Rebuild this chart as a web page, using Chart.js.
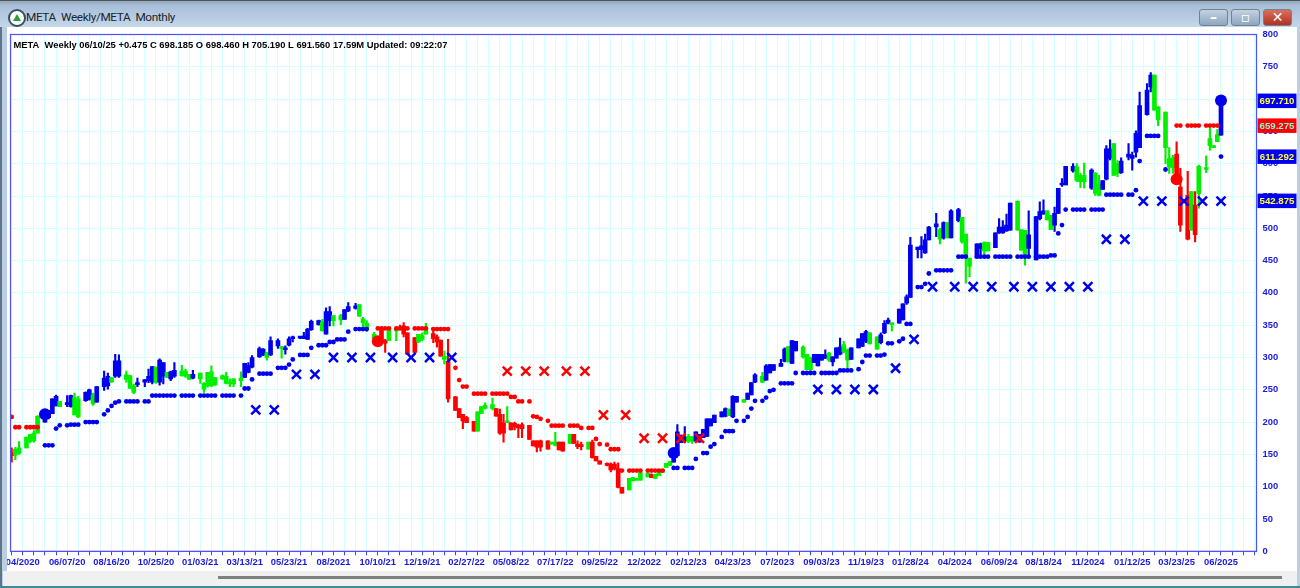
<!DOCTYPE html>
<html>
<head>
<meta charset="utf-8">
<title>META Weekly/META Monthly</title>
<script src="https://cdn.jsdelivr.net/npm/chart.js@4/dist/chart.umd.min.js"></script>
<style>
html, body { margin: 0; padding: 0; width: 1300px; height: 588px; overflow: hidden; background: #b9cfe4; }
#titlebar { position: absolute; left: 0; top: 0; width: 1300px; height: 27px; background: linear-gradient(#8fa6bf 0, #a9bfd8 4px, #b4c9e0 14px, #c6d8ea 27px); border-top: 1px solid #555; box-sizing: border-box; }
#icon { position: absolute; left: 8px; top: 8px; width: 14px; height: 14px; border-radius: 50%; background: #fff; border: 2px solid #35505f; }
#icon i { position: absolute; left: 3px; top: 3px; border-left: 4px solid transparent; border-right: 4px solid transparent; border-bottom: 7px solid #2f9a3a; }
#wintitle { position: absolute; left: 26px; top: 9px; font: 11.8px Roboto, sans-serif; letter-spacing: -0.38px; color: #20252b; white-space: pre; }
.btn { position: absolute; top: 8px; width: 29px; height: 17px; border: 1px solid #6f8296; border-radius: 3px; box-sizing: border-box; background: linear-gradient(#c2d2e2, #8ea7c0); text-align: center; color: #fff; font: bold 14px "DejaVu Sans", sans-serif; line-height: 14px; }
#client { position: absolute; left: 7px; top: 27px; width: 1290px; height: 544px; background: #fff; }
#hscroll { position: absolute; left: 3px; top: 571px; width: 1294px; height: 15px; background: #f0f0f0; }
#thumb { position: absolute; left: 215px; top: 5px; width: 1064px; height: 3px; background: #808080; }
#edge { position: absolute; left: 0; top: 586px; width: 1300px; height: 2px; background: #3f8a96; }
#leftedge { position: absolute; left: 0; top: 27px; width: 2px; height: 560px; background: #5f7488; }
</style>
</head>
<body>
<div id="titlebar">
  <div id="icon"><i></i></div>
  <div id="wintitle">META  Weekly/META  Monthly</div>
  <div class="btn" style="left:1199px">–</div>
  <div class="btn" style="left:1231px">▫</div>
  <div class="btn" style="left:1263px;background:linear-gradient(#d9705f,#b03222)">✕</div>
</div>
<div id="leftedge"></div>
<div id="client"><canvas id="chart" width="1290" height="544"></canvas></div>
<div id="hscroll"><div id="thumb"></div></div>
<div id="edge"></div>
<script>
const headerText = 'META  Weekly 06/10/25 +0.475 C 698.185 O 698.460 H 705.190 L 691.560 17.59M Updated: 09:22:07';

// x labels sit on slot 3 and then every 12 slots
const xTickLabels = ['04/2020','06/07/20','08/16/20','10/25/20','01/03/21','03/13/21','05/23/21','08/2021','10/10/21','12/19/21','02/27/22','05/08/22','07/17/22','09/25/22','12/2022','02/12/23','04/23/23','07/2023','09/03/23','11/19/23','01/28/24','04/2024','06/09/24','08/18/24','11/2024','01/12/25','03/23/25','06/2025'];

// weekly bars, b = blue, g = green, r = red
const barSlots = [0,1,2,4,5,6,7,9,10,11,
  12,13,15,16,17,18,20,21,22,23,
  25,26,27,28,29,31,32,33,34,36,
  37,38,39,40,41,42,43,44,46,47,
  48,49,51,52,53,54,55,57,58,59,
  60,62,63,64,65,67,68,69,70,72,
  73,74,75,76,78,79,80,81,83,84,
  85,86,87,89,90,91,93,94,95,96,
  98,99,100,101,102,104,105,106,107,109,
  110,111,112,114,115,116,117,118,120,121,
  122,123,125,126,127,128,130,131,132,133,
  134,135,136,137,138,140,141,142,143,145,
  146,147,148,149,151,152,153,154,156,157,
  158,159,161,162,163,164,165,167,168,169,
  170,172,173,174,175,176,177,178,179,180,
  181,182,183,184,185,186,187,188,189,190,
  192,193,194,195,196,198,199,200,201,203,
  204,205,206,208,209,210,211,212,214,215,
  216,217,218,219,220,221,222,223,224,225,
  226,227,229,230,231,232,234,235,236,237,
  238,240,241,242,243,245,246,247,248,250,
  251,252,253,254,256,257,258,259,261,262,
  263,264,266,267,268,269,270,272,273,274,
  275,277,278,279,280,281,282,283,284,285,
  287,288,289,290,292,293,294,295,296,297,
  298,299,300,302,303,304,305,307,308,309,
  310,312,313,314,315,316,318,319,320,321,
  323,324,325,326,327];
const barKinds = ('rgggggg' + 'bbb' +
  'bgbbggbbgb' +
  'bbgbbgggbb' +
  'bbgbbgbbgg' +
  'gbgggggggg' +
  'ggbbbbbgbb' +
  'gbbbbbbbbg' +
  'bbggbbbggg' +
  'grrrggrrrr' +
  'gggrrrgrrr' +
  'rrrggggrrr' +
  'grrrrrrrrr' +
  'ggrrgrrrgr' +
  'rrrrrrrggg' +
  'ggrggggg' + 'bb' +
  'bbggbbbbbb' +
  'bbgbbgbbbg' +
  'bbbbbgbbgg' +
  'gbbbbgbbbg' +
  'gbbbbggbbb' +
  'gbbbbbbbbb' +
  'gbgbbgggbb' +
  'ggbbbbbggg' +
  'bbbbggbbbb' +
  'bgggbggbbb' +
  'ggbbbbbbbg' +
  'ggggrrrgrg' +
  'ggggb').split('');
const bodyHigh = [153,158,160,177,181,183,209,218,218,236,
  240,232,229,241,238,236,246,250,241,255,
  268,271,269,295,295,273,272,256,261,266,
  271,286,285,296,292,277,278,280,279,279,
  274,274,276,260,277,278,269,272,271,262,
  267,268,291,288,300,314,313,307,326,326,
  317,314,329,332,331,333,344,356,357,355,
  371,371,365,365,374,379,380,382,360,353,
  336,331,344,326,343,345,346,349,338,331,
  336,334,344,337,332,327,302,294,239,221,
  212,207,201,216,224,226,227,221,212,199,
  202,199,198,195,196,195,171,171,171,171,
  168,169,169,169,181,181,166,164,169,169,
  147,140,136,135,135,128,99,113,114,113,
  122,121,119,119,122,127,136,139,158,185,
  180,177,178,177,185,181,189,205,205,211,
  216,221,220,240,240,235,245,261,273,271,
  287,289,289,291,313,317,326,325,316,305,
  299,305,305,305,304,307,301,315,316,320,
  312,315,329,337,340,338,332,335,353,358,
  352,375,383,394,474,471,473,482,502,507,
  498,509,509,527,529,517,491,454,476,476,
  478,478,493,502,502,505,539,542,498,497,
  490,518,526,527,527,520,523,562,569,596,
  596,595,582,582,590,586,568,574,623,623,
  631,600,604,615,613,647,690,714,737,737,
  688,680,608,609,615,564,551,557,536,596,
  594,639,628,645,698];
const bodyLow = [148,149,152,160,170,171,183,200,207,213,
  225,224,227,224,211,208,233,235,228,231,
  255,256,262,271,271,266,252,246,258,262,
  264,262,262,262,271,269,267,271,272,271,
  266,268,267,251,256,256,257,267,260,259,
  259,264,269,277,285,301,304,300,304,318,
  314,312,319,329,330,329,328,343,351,341,
  336,357,357,358,359,372,376,364,354,344,
  329,323,323,322,326,341,344,336,305,308,
  324,328,336,329,324,302,297,236,218,207,
  202,199,186,186,213,221,221,209,183,183,
  199,188,193,191,190,173,163,161,161,158,
  166,164,157,155,167,167,162,162,158,145,
  140,135,133,126,128,99,90,95,109,110,
  110,115,114,113,117,122,130,133,138,148,
  168,171,170,170,171,169,176,178,194,199,
  208,209,210,208,231,231,235,242,262,262,
  265,276,280,286,294,293,291,310,301,281,
  281,292,287,296,299,296,293,299,305,309,
  296,297,315,317,325,321,313,323,338,353,
  351,353,358,384,393,467,467,462,482,502,
  483,485,485,485,512,479,456,441,454,469,
  465,465,470,493,493,496,497,497,466,459,
  469,451,515,522,513,498,505,523,567,567,
  589,574,572,572,562,554,551,560,576,608,
  582,585,586,610,608,618,625,676,719,683,
  668,625,595,594,580,505,483,497,490,554,
  591,628,625,634,644];
const highs = [160,161,170,177,181,187,210,218,218,236,
  242,232,241,242,245,240,247,251,245,255,
  279,276,269,305,304,279,272,259,268,266,
  282,286,285,298,292,277,279,292,288,282,
  274,280,276,261,277,287,269,273,277,267,
  267,278,291,292,303,316,314,308,332,329,
  317,318,332,333,332,339,345,358,358,359,
  377,379,365,367,374,385,384,382,362,357,
  339,331,347,328,343,345,350,354,338,331,
  336,338,353,346,335,327,310,328,240,221,
  212,209,201,216,224,230,237,221,220,212,
  224,199,200,197,199,195,171,171,172,171,
  168,184,169,169,181,181,171,169,169,172,
  147,140,137,137,138,137,99,113,114,113,
  122,121,120,119,122,127,136,139,158,196,
  180,193,181,178,185,181,189,205,205,211,
  216,222,220,241,240,235,245,261,275,277,
  289,289,289,297,315,317,326,325,318,305,
  301,305,305,305,312,308,301,315,330,325,
  313,315,329,337,342,338,332,338,357,361,
  352,375,383,397,486,471,487,491,503,523,
  500,510,509,529,531,517,491,454,476,477,
  479,478,493,515,512,522,539,542,498,497,
  527,518,541,544,527,520,533,562,577,596,
  600,600,585,601,592,586,582,574,628,637,
  631,605,609,631,618,651,711,724,741,737,
  688,680,625,613,634,593,588,557,557,598,
  612,656,628,653,705];
const lows = [138,142,150,160,168,169,183,200,205,213,
  225,224,224,223,211,207,232,234,226,231,
  249,251,262,269,269,262,252,244,255,255,
  261,259,260,257,259,269,264,269,271,269,
  266,267,260,246,254,255,257,266,259,255,
  255,255,269,276,284,300,303,296,303,314,
  299,305,318,324,329,329,328,342,350,341,
  336,349,349,351,359,371,375,364,346,340,
  328,321,323,308,326,326,343,332,305,308,
  323,326,336,323,316,302,290,231,218,207,
  190,199,186,186,213,220,219,209,181,169,
  199,188,188,176,176,173,163,154,155,158,
  166,163,157,155,167,167,159,157,158,144,
  140,135,132,123,126,98,90,95,109,110,
  110,115,114,113,117,122,130,133,138,148,
  168,169,168,167,171,169,176,178,194,199,
  208,208,210,207,231,231,235,242,261,261,
  265,276,280,286,293,293,291,310,299,281,
  276,292,287,296,298,294,287,299,304,307,
  281,297,315,317,323,321,313,321,337,352,
  341,353,358,382,393,454,454,461,482,487,
  476,483,485,485,510,477,415,425,454,456,
  459,465,470,492,492,495,497,497,466,443,
  459,451,513,522,513,498,495,523,565,567,
  587,572,563,562,560,551,550,560,575,606,
  582,580,585,606,590,610,625,675,711,683,
  659,600,585,585,570,495,482,497,479,531,
  586,621,625,634,644];

// stop dots
const blueDotSlots = [9,10,11,12,13,15,16,17,18,20,21,22,23,25,26,27,28,29,31,32,33,34,36,37,38,39,40,41,42,43,44,46,47,48,49,51,52,53,54,55,57,58,59,60,62,63,64,65,67,68,69,70,72,73,74,75,76,78,79,80,81,83,84,85,86,87,88,89,90,91,93,94,95,96,
  179,180,182,183,184,185,187,188,189,190,192,193,194,195,196,198,199,200,201,203,204,205,206,208,209,210,211,212,214,215,216,217,219,220,221,222,223,224,225,226,227,229,230,231,232,234,235,236,237,238,240,241,242,243,
  245,246,247,248,250,251,252,253,254,256,257,258,261,262,263,264,266,267,268,269,270,272,273,274,275,277,278,279,280,281,282,283,284,285,287,288,289,290,292,293,294,295,296,297,298,299,300,302,303,304,305,307,308,309,310,312,327,328];
const blueDotValues = [164,164,164,190,195,195,196,196,196,200,200,200,200,212,218,225,230,232,232,232,232,232,232,232,241,241,241,241,241,241,241,241,241,241,241,241,241,241,241,241,241,241,241,241,241,252,252,266,275,275,275,275,284,284,284,289,297,304,304,304,315,319,319,319,324,324,328,328,328,340,344,344,344,344,
  129,129,129,129,129,143,152,152,162,166,177,186,186,186,202,202,208,221,233,233,238,248,250,260,260,260,260,276,276,276,276,276,276,276,276,276,276,280,280,280,280,282,293,303,303,303,303,304.5,322,322,325,329,352,352,
  409,409,414,430,435,435,435,435,435,456,456,456,456,456,456,456,456,456,456,456,456,456,456,456,456,456,456,456,456,458,458,492,505,529,529,529,529,529,529,529,529,529,552,552,552,552,552,552,552,559,604,643,643,643,643,591,611];
const redDotSlots = [0,1,2,4,5,6,7,99,100,101,102,104,105,106,107,109,110,111,112,114,115,116,117,118,120,121,122,123,125,126,127,128,130,131,132,133,134,135,136,137,138,140,141,142,143,145,146,147,148,149,151,152,153,154,156,157,158,159,161,162,163,164,165,167,168,169,170,172,173,174,175,176,315,316,318,319,320,321,323,324,325,326];
const redDotValues = [208,192,192,192,192,192,192,345,345,345,345,345,345,345,345,345,345,345,345,344,344,344,344,344,284,265,255,255,244,244,244,244,244,244,244,244,244,239,239,232,232,232,209,208,205,202,194.5,194.5,194.5,194.5,194.5,194.5,194.5,191,191,191,174,166,165,158,158,158,125,125,125,125,125,125,125,125,125,125,659,659,659,659,659,659,659,659,659,659];

// trend change circles
const bigBlueSlots = [9,179,327];
const bigBlueValues = [212,152,697.7];
const bigRedSlots = [99,315];
const bigRedValues = [325,576];

// x marks
const blueCrossSlots = [66,71,77,82,87,92,97,103,108,113,119,218,223,228,233,239,244,249,255,260,265,271,276,281,286,291,296,301,306,311,317,322,327];
const blueCrossValues = [219,219,274,274,300,300,300,300,300,300,300,250.5,250.5,250.5,250.5,283.4,328,409.5,409.5,409.5,409.5,409.5,409.5,409.5,409.5,409.5,483,483,542,542,542,542,542];
const redCrossSlots = [134,139,144,150,155,160,166,171,176,181,186];
const redCrossValues = [279,279,279,279,279,211,211,175,175,175,175];

// price tags on the right axis
const tagValues = [697.71,659.275,611.292,542.875];
const tagLabels = ['697.710','659.275','611.292','542.875'];
const tagKinds = ['b','r','b','b'];

const BLUE = '#0000ee', GREEN = '#00f000', RED = '#ff0000';
const kindColor = { b: BLUE, g: GREEN, r: RED };
const axisFont = { family: '"Liberation Sans", Arial, sans-serif', size: 9.4, weight: 'bold' };

function points(slots, values) {
    return slots.map(function(s, i) { return { x: s, y: values[i] }; });
}

function dots(slots, values, color, radius) {
    return {
        type: 'scatter',
        data: points(slots, values),
        backgroundColor: color,
        borderColor: color,
        pointRadius: radius,
        borderWidth: 0,
        order: 1
    };
}

function crosses(slots, values, color) {
    return {
        type: 'scatter',
        data: points(slots, values),
        pointStyle: 'crossRot',
        pointRadius: 6.4,
        borderColor: color,
        pointBorderWidth: 2.5,
        order: 0
    };
}

const framePlugin = {
    id: 'frame',
    afterDraw(chart) {
        const ctx = chart.ctx, a = chart.chartArea, y = chart.scales.y;
        ctx.save();
        ctx.strokeStyle = '#5050ff';
        ctx.lineWidth = 1.2;
        ctx.strokeRect(a.left, a.top, a.right - a.left, a.bottom - a.top);
        ctx.fillStyle = '#000';
        ctx.font = 'bold 9.4px "Liberation Sans", Arial, sans-serif';
        ctx.textBaseline = 'alphabetic';
        ctx.fillText(headerText, a.left + 3, a.top + 13);
        ctx.textAlign = 'center';
        ctx.textBaseline = 'middle';
        ctx.font = 'bold 9.7px "Liberation Sans", Arial, sans-serif';
        tagValues.forEach(function(v, i) {
            const py = y.getPixelForValue(v);
            ctx.fillStyle = tagKinds[i] === 'r' ? RED : BLUE;
            ctx.fillRect(a.right + 1, py - 7, 39, 14.5);
            ctx.fillStyle = tagKinds[i] === 'r' ? '#7fffd8' : '#ffff40';
            ctx.fillText(tagLabels[i], a.right + 20.5, py + 0.5);
        });
        ctx.restore();
    }
};

new Chart(document.getElementById('chart').getContext('2d'), {
    type: 'bar',
    plugins: [framePlugin],
    data: {
        datasets: [
            crosses(blueCrossSlots, blueCrossValues, BLUE),
            crosses(redCrossSlots, redCrossValues, RED),
            dots(blueDotSlots, blueDotValues, BLUE, 2.4),
            dots(redDotSlots, redDotValues, RED, 2.4),
            dots(bigBlueSlots, bigBlueValues, BLUE, 6),
            dots(bigRedSlots, bigRedValues, RED, 6),
            {
                data: barSlots.map(function(s, i) { return { x: s, y: [bodyLow[i], bodyHigh[i]] }; }),
                backgroundColor: barKinds.map(function(k) { return kindColor[k]; }),
                barThickness: 4,
                minBarLength: 2,
                order: 2
            },
            {
                data: barSlots.map(function(s, i) { return { x: s, y: [lows[i], highs[i]] }; }),
                backgroundColor: barKinds.map(function(k) { return kindColor[k]; }),
                barThickness: 1.5,
                order: 3
            }
        ]
    },
    options: {
        responsive: false,
        animation: false,
        devicePixelRatio: 1,
        layout: { autoPadding: false, padding: { left: 3.5, top: 7.5, right: 2.5, bottom: 0 } },
        plugins: { legend: { display: false }, tooltip: { enabled: false } },
        datasets: { bar: { grouped: false } },
        scales: {
            x: {
                type: 'linear',
                offset: false,
                min: -0.32,
                max: 336.6,
                grid: { offset: false, color: '#d6ffff', lineWidth: 1, tickColor: '#4040ff', tickLength: 4 },
                border: { color: '#5050ff' },
                ticks: {
                    stepSize: 3,
                    includeBounds: false,
                    autoSkip: false,
                    maxRotation: 0,
                    padding: 1,
                    color: '#1818e0',
                    font: axisFont,
                    callback: function(value) {
                        const k = (value - 3) / 12;
                        return Number.isInteger(k) && xTickLabels[k] ? xTickLabels[k] : '';
                    }
                },
                afterFit: function(scale) {
                    scale.height = 19.7;
                    scale.paddingLeft = 0;
                    scale.paddingRight = 0;
                }
            },
            y: {
                position: 'right',
                min: 0,
                max: 800,
                grid: { color: '#d6ffff', lineWidth: 1, drawTicks: false },
                border: { color: '#5050ff' },
                ticks: { stepSize: 50, padding: 6, color: '#1818e0', font: axisFont },
                afterFit: function(scale) {
                    scale.width = 38;
                    scale.paddingTop = 0;
                    scale.paddingBottom = 0;
                }
            }
        }
    }
});
</script>
</body>
</html>
